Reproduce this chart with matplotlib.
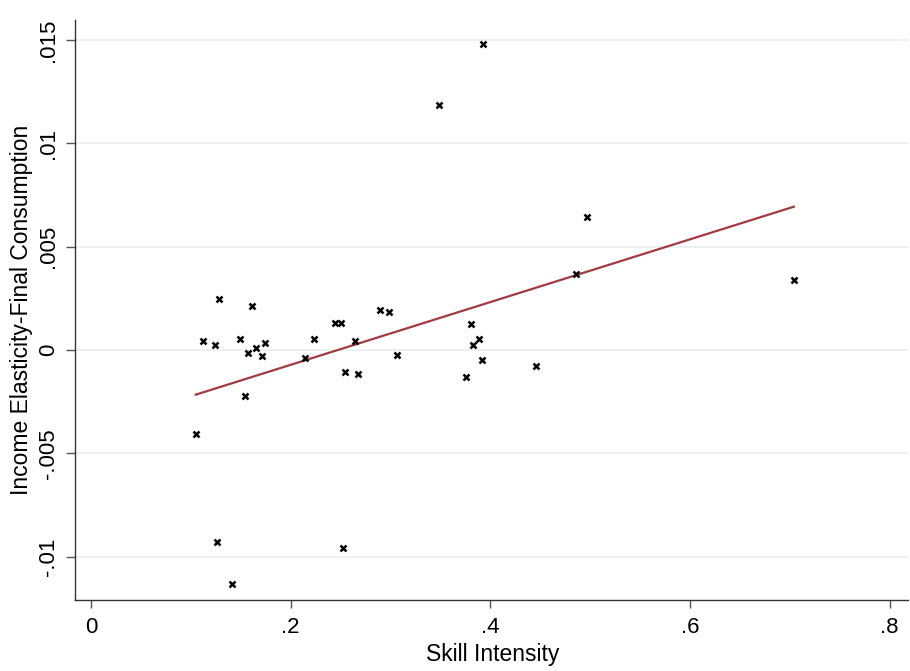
import numpy as np
import matplotlib
matplotlib.use("Agg")
import matplotlib.pyplot as plt

plt.rcParams['font.family'] = ['Liberation Sans', 'DejaVu Sans']

# skill intensity vs income elasticity (final consumption)
skill = [0.393, 0.349, 0.497, 0.486, 0.704, 0.128, 0.161, 0.290, 0.299,
         0.244, 0.250, 0.381, 0.112, 0.124, 0.149, 0.223, 0.264, 0.165,
         0.157, 0.171, 0.174, 0.214, 0.307, 0.389, 0.383, 0.392, 0.254,
         0.267, 0.376, 0.446, 0.154, 0.105, 0.126, 0.252, 0.141]
elast = [0.0148, 0.01185, 0.00643, 0.00367, 0.00338, 0.00247, 0.00213,
         0.00193, 0.00184, 0.00131, 0.00131, 0.00126, 0.00044, 0.00024,
         0.00053, 0.00053, 0.00044, 0.0001, -0.00015, -0.0003, 0.00034,
         -0.0004, -0.00024, 0.00053, 0.00024, -0.0005, -0.00106, -0.00116,
         -0.0013, -0.00077, -0.00222, -0.00406, -0.00928, -0.00957, -0.01131]

xticks = [0, 0.2, 0.4, 0.6, 0.8]
xticklabels = ['0', '.2', '.4', '.6', '.8']
yticks = [-0.01, -0.005, 0, 0.005, 0.01, 0.015]
yticklabels = ['-.01', '-.005', '0', '.005', '.01', '.015']

x = np.array(skill)
y = np.array(elast)

fig = plt.figure(figsize=(9.1, 6.71), dpi=100)
ax = fig.add_axes([0.0824, 0.1058, 0.915, 0.864])

# linear fit
b, a = np.polyfit(x, y, 1)
xf = np.array([x.min(), x.max()])
ax.plot(xf, a + b * xf, color='#a23a42', lw=1.6, zorder=2)

ax.plot(x, y, linestyle='none', marker='x', ms=4.8, mew=1.8, color='black', zorder=3)

ax.set_xlim(-0.016, 0.818)
ax.set_ylim(-0.01209, 0.01596)
ax.set_xticks(xticks)
ax.set_xticklabels(xticklabels)
ax.set_yticks(yticks)
ax.set_yticklabels(yticklabels, rotation=90, va='center')
for yt in yticks:
    ax.axhline(yt, color='#e8f0f2', lw=1.2, zorder=0)

for s in ['top', 'right']:
    ax.spines[s].set_visible(False)
for s in ['left', 'bottom']:
    ax.spines[s].set_linewidth(1.0)
    ax.spines[s].set_color('#333333')
ax.tick_params(axis='x', direction='out', length=6, width=1, color='#555555', labelsize=16, pad=6)
ax.tick_params(axis='y', direction='out', length=6.5, width=1, color='#555555', labelsize=16, pad=5)

ax.set_xlabel('Skill Intensity', fontsize=16.5, va='top')
ax.xaxis.set_label_coords(0.502, -0.074)
ax.set_ylabel('Income Elasticity-Final Consumption', fontsize=16.5)
ax.yaxis.set_label_coords(-0.050, 0.5)

fig.savefig('out.png', dpi=100)
